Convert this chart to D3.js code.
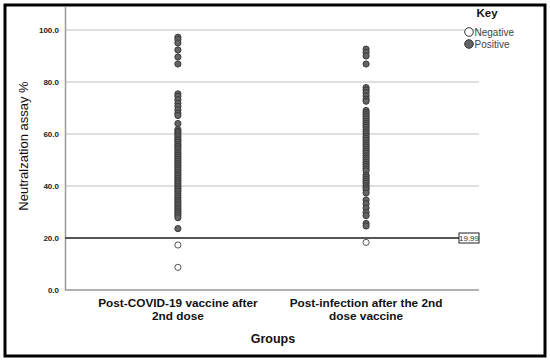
<!DOCTYPE html>
<html>
<head>
<meta charset="utf-8">
<script src="https://cdn.jsdelivr.net/npm/d3@7/dist/d3.min.js"></script>
<style>
  body { margin: 0; background: #fff; }
  svg { display: block; font-family: "Liberation Sans", Arial, sans-serif; }
</style>
</head>
<body>
<div id="chart"></div>
<script>
// groups on the x axis
const groups = ["Post-COVID-19 vaccine after 2nd dose", "Post-infection after the 2nd dose vaccine"]
const groupLines = [["Post-COVID-19 vaccine after", "2nd dose"], ["Post-infection after the 2nd", "dose vaccine"]]

// neutralization assay % per group, split by result
const vaccinePositive = [97.2, 96.3, 95.0, 92.3, 89.6, 86.9, 75.4, 74.5, 73.2, 71.8, 70.6, 69.3, 68.0, 67.1, 64.0,
  61.7, 61.0, 60.4, 59.6, 58.9, 58.1, 57.5, 56.8, 56.0, 55.3, 54.6, 53.9, 53.1, 52.4, 51.7, 51.0, 50.2, 49.5, 48.8,
  48.0, 47.3, 46.6, 45.9, 45.1, 44.4, 43.7, 42.9, 42.2, 41.5, 40.8, 40.0, 39.3, 38.6, 37.9, 37.0, 36.2, 35.4, 34.6,
  33.9, 33.1, 32.4, 31.6, 30.9, 30.1, 29.4, 28.6, 27.8, 23.6]
const vaccineNegative = [17.3, 8.7]
const infectionPositive = [92.6, 91.4, 90.0, 86.9, 77.8, 76.9, 75.9, 74.6, 73.4, 72.6, 69.0, 68.2, 67.4, 66.6, 65.8,
  64.9, 64.1, 63.3, 62.5, 61.6, 60.8, 60.0, 59.1, 58.3, 57.5, 56.6, 55.8, 55.0, 54.1, 53.3, 52.5, 51.6, 50.8, 50.0,
  49.1, 48.3, 47.5, 46.6, 45.8, 44.2, 43.4, 42.6, 41.8, 41.0, 40.1, 39.3, 38.5, 37.3, 34.6, 33.2, 31.5, 29.8, 28.6,
  25.6, 24.6]
const infectionNegative = [18.3]

const yTicks = [0, 20, 40, 60, 80, 100]
const cutoff = 19.99
const keyLabels = ["Negative", "Positive"]

const width = 550, height = 361
const margin = { left: 65, right: 479, top: 6, bottom: 290 }

const svg = d3.select("#chart").append("svg")
    .attr("width", width)
    .attr("height", height)

// outer frame
svg.append("rect")
    .attr("x", 5).attr("y", 5)
    .attr("width", 540).attr("height", 351)
    .attr("fill", "#fff")
    .attr("stroke", "#000")
    .attr("stroke-width", 3)

const x = d3.scalePoint()
    .domain(groups)
    .range([margin.left, margin.right])
    .padding(0.6)

const y = d3.scaleLinear()
    .domain([0, 109.2])
    .range([margin.bottom, margin.top])

// gridlines
svg.append("g")
    .selectAll("line")
    .data(yTicks.filter(d => d > 0))
    .join("line")
    .attr("x1", margin.left).attr("x2", margin.right)
    .attr("y1", d => y(d)).attr("y2", d => y(d))
    .attr("stroke", "#d4d4d4")
    .attr("stroke-width", 1.5)

// y axis
const yAxis = svg.append("g")
    .attr("transform", `translate(${margin.left},0)`)
    .call(d3.axisLeft(y).tickValues(yTicks).tickFormat(d3.format(".1f")).tickSize(0).tickPadding(6))
yAxis.select(".domain").attr("stroke", "#999").attr("stroke-width", 1.5)
yAxis.selectAll("text")
    .attr("font-size", 8)
    .attr("font-weight", "bold")
    .attr("fill", "#222")

// x axis
const xAxis = svg.append("g")
    .attr("transform", `translate(0,${margin.bottom})`)
    .call(d3.axisBottom(x).tickSize(0).tickFormat(""))
xAxis.select(".domain")
    .attr("d", `M${margin.left},0H${margin.right}`)
    .attr("stroke", "#999").attr("stroke-width", 1.5)

groups.forEach((g, i) => {
    const t = svg.append("text")
        .attr("x", x(g))
        .attr("y", 307)
        .attr("text-anchor", "middle")
        .attr("font-size", 11.8)
        .attr("font-weight", "bold")
        .attr("fill", "#111")
    groupLines[i].forEach((line, j) => {
        t.append("tspan").attr("x", x(g)).attr("dy", j ? 12.5 : 0).text(line)
    })
})

// axis titles
svg.append("text")
    .attr("x", 273).attr("y", 343)
    .attr("text-anchor", "middle")
    .attr("font-size", 12.5)
    .attr("font-weight", "bold")
    .attr("fill", "#111")
    .text("Groups")

svg.append("text")
    .attr("transform", `translate(28,146) rotate(-90)`)
    .attr("text-anchor", "middle")
    .attr("font-size", 13)
    .attr("fill", "#111")
    .text("Neutralzation assay %")

// cutoff line
svg.append("line")
    .attr("x1", margin.left).attr("x2", margin.right - 20)
    .attr("y1", y(cutoff)).attr("y2", y(cutoff))
    .attr("stroke", "#555")
    .attr("stroke-width", 2)

svg.append("rect")
    .attr("x", margin.right - 20).attr("y", y(cutoff) - 5)
    .attr("width", 20).attr("height", 10)
    .attr("fill", "#fff")
    .attr("stroke", "#222")
    .attr("stroke-width", 1)

svg.append("text")
    .attr("x", margin.right - 10).attr("y", y(cutoff) + 3)
    .attr("text-anchor", "middle")
    .attr("font-size", 8)
    .attr("fill", "#333")
    .text(d3.format(".2f")(cutoff))

// points
const points = [
    ...vaccinePositive.map(v => ({ g: groups[0], v, pos: true })),
    ...vaccineNegative.map(v => ({ g: groups[0], v, pos: false })),
    ...infectionPositive.map(v => ({ g: groups[1], v, pos: true })),
    ...infectionNegative.map(v => ({ g: groups[1], v, pos: false }))
]

svg.append("g")
    .selectAll("circle")
    .data(points)
    .join("circle")
    .attr("cx", d => x(d.g))
    .attr("cy", d => y(d.v))
    .attr("r", 3.1)
    .attr("fill", d => d.pos ? "#646464" : "#fff")
    .attr("stroke", d => d.pos ? "#3a3a3a" : "#555")
    .attr("stroke-width", 1)

// key
svg.append("text")
    .attr("x", 487).attr("y", 17)
    .attr("text-anchor", "middle")
    .attr("font-size", 11.5)
    .attr("font-weight", "bold")
    .attr("fill", "#111")
    .text("Key")

const key = svg.append("g")
    .selectAll("g")
    .data(keyLabels)
    .join("g")
    .attr("transform", (d, i) => `translate(469,${32 + i * 12})`)

key.append("circle")
    .attr("r", 4.3)
    .attr("fill", (d, i) => i ? "#646464" : "#fff")
    .attr("stroke", "#333")
    .attr("stroke-width", 1)

key.append("text")
    .attr("x", 5.5).attr("y", 3.5)
    .attr("font-size", 10)
    .attr("fill", "#444")
    .text(d => d)
</script>
</body>
</html>
